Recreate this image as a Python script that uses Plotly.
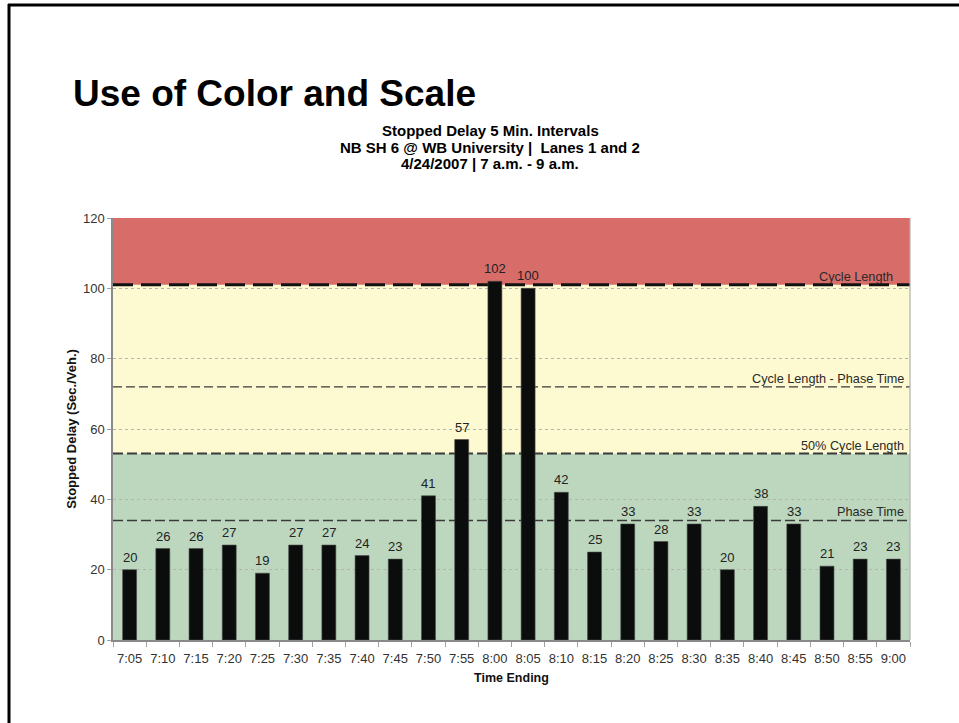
import plotly.graph_objects as go

# Five-minute intervals (time ending) and stopped delay per vehicle
times = ["7:05", "7:10", "7:15", "7:20", "7:25", "7:30", "7:35", "7:40",
         "7:45", "7:50", "7:55", "8:00", "8:05", "8:10", "8:15", "8:20",
         "8:25", "8:30", "8:35", "8:40", "8:45", "8:50", "8:55", "9:00"]
delay = [20, 26, 26, 27, 19, 27, 27, 24, 23, 41, 57, 102, 100, 42,
         25, 33, 28, 33, 20, 38, 33, 21, 23, 23]

# Signal timing reference levels (sec.)
ref_names = ["Cycle Length", "Cycle Length - Phase Time", "50% Cycle Length", "Phase Time"]
ref_values = [101, 72, 53, 34]
y_max = 120
y_ticks = [0, 20, 40, 60, 80, 100, 120]

W, H = 959, 723
L, R, T, B = 113, 910, 218, 640   # plot area in pixels


def px_x(px):
    return (px - L) / (R - L)


def px_y(py):
    return (B - py) / (B - T)


FONT = "Liberation Sans, Arial, sans-serif"

fig = go.Figure()
fig.add_trace(go.Bar(
    x=times, y=delay, width=0.42,
    marker=dict(color="#0b0d0c", line=dict(color="#4a4a4a", width=0.6)),
    hoverinfo="x+y", showlegend=False,
))

shapes = []
# Colour bands: acceptable / warning / over cycle length
cycle, cyc_minus_phase, half_cycle, phase = ref_values
bands = [(0, half_cycle, "#bcd7be"), (half_cycle, cycle, "#fdf9d1"), (cycle, y_max, "#d76c69")]
for y0, y1, col in bands:
    shapes.append(dict(type="rect", xref="paper", yref="y", x0=0, x1=1, y0=y0, y1=y1,
                       fillcolor=col, line=dict(width=0), layer="below"))

# Reference lines
line_styles = [
    dict(color="#111111", width=3, dash="20px,8px"),
    dict(color="#3a3a3a", width=1.2, dash="9px,4px"),
    dict(color="#3a3a3a", width=2, dash="10px,4px"),
    dict(color="#3a3a3a", width=1.6, dash="10px,4px"),
]
for val, st in zip(ref_values, line_styles):
    shapes.append(dict(type="line", xref="paper", yref="y", x0=0, x1=1, y0=val, y1=val,
                       line=st, layer="between"))

# Slide frame (top and left edges)
shapes.append(dict(type="line", xref="paper", yref="paper",
                   x0=px_x(8), x1=px_x(962), y0=px_y(5), y1=px_y(5),
                   line=dict(color="#000000", width=3)))
shapes.append(dict(type="line", xref="paper", yref="paper",
                   x0=px_x(9), x1=px_x(9), y0=px_y(4), y1=px_y(726),
                   line=dict(color="#000000", width=3)))

annotations = []
# Value labels over the bars
for t, v in zip(times, delay):
    annotations.append(dict(x=t, y=v, xref="x", yref="y", text=str(v), showarrow=False,
                            yanchor="bottom", yshift=3,
                            font=dict(family=FONT, size=13, color="#222222")))

# Reference line labels
label_right = [895, 906, 906, 906]
for name, val, rx in zip(ref_names, ref_values, label_right):
    annotations.append(dict(x=px_x(rx), y=val, xref="paper", yref="y", text=name,
                            showarrow=False, xanchor="right", yanchor="bottom", yshift=-1,
                            font=dict(family=FONT, size=12.7, color="#2a2a2a")))

# Slide heading
annotations.append(dict(x=px_x(71), y=px_y(93), xref="paper", yref="paper",
                        text="<b>Use of Color and Scale</b>", showarrow=False,
                        xanchor="left", yanchor="middle",
                        font=dict(family=FONT, size=37, color="#000000")))

# Chart title lines
title_lines = ["Stopped Delay 5 Min. Intervals",
               "NB SH 6 @ WB University |  Lanes 1 and 2",
               "4/24/2007 | 7 a.m. - 9 a.m."]
for i, line in enumerate(title_lines):
    annotations.append(dict(x=px_x(490), y=px_y(131 + 16 * i), xref="paper", yref="paper",
                            text="<b>" + line + "</b>", showarrow=False,
                            xanchor="center", yanchor="middle",
                            font=dict(family=FONT, size=15, color="#000000")))

fig.update_layout(
    width=W, height=H,
    margin=dict(l=L, r=W - R, t=T, b=H - B, pad=0),
    paper_bgcolor="#ffffff", plot_bgcolor="rgba(0,0,0,0)",
    shapes=shapes, annotations=annotations,
    font=dict(family=FONT, size=13, color="#222222"),
    bargap=0.58,
    xaxis=dict(
        type="category", showline=True, linecolor="#8a8a8a", linewidth=1.5,
        ticks="outside", tickson="boundaries", ticklen=5, tickcolor="#a0a0a0",
        ticklabelstandoff=6, tickangle=0,
        showgrid=False, tickfont=dict(family=FONT, size=13, color="#333333"),
        title=dict(text="<b>Time Ending</b>", standoff=8,
                   font=dict(family=FONT, size=12.5, color="#111111")),
        mirror=False,
    ),
    yaxis=dict(
        range=[0, y_max], tickvals=y_ticks, showline=True, linecolor="#8a8a8a", linewidth=1.5,
        ticks="outside", ticklen=4, tickcolor="#a0a0a0",
        showgrid=True, gridcolor="#b4b4b4", griddash="dot", gridwidth=1,
        zeroline=False, tickfont=dict(family=FONT, size=13, color="#333333"),
        title=dict(text="<b>Stopped Delay (Sec./Veh.)</b>", standoff=3,
                   font=dict(family=FONT, size=13, color="#111111")),
    ),
)

# Right-hand plot edge
fig.add_shape(type="line", xref="paper", yref="paper", x0=1, x1=1, y0=0, y1=1,
              line=dict(color="#b0b0b0", width=1.2))

fig.write_html("out.html")
